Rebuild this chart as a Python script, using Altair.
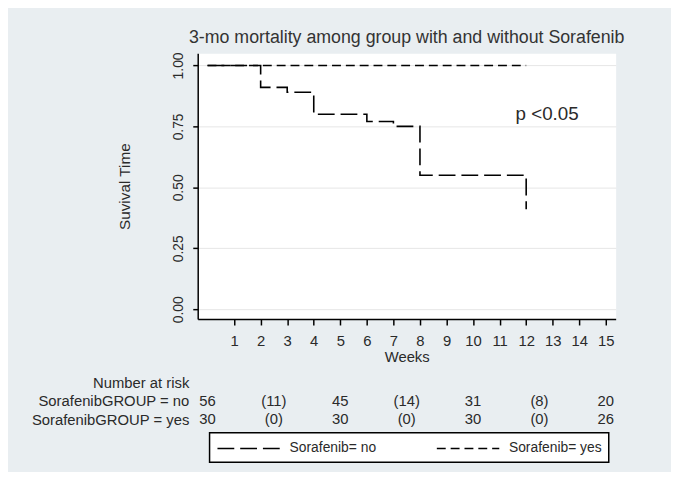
import altair as alt
import pandas as pd

# ---------------- data ----------------
chart_title = "3-mo mortality among group with and without Sorafenib"
groups = ["Sorafenib= no", "Sorafenib= yes"]
weeks_no = [0, 2, 3, 4, 6, 7, 8, 12]
surv_no = [1.0, 0.91, 0.89, 0.80, 0.77, 0.75, 0.55, 0.41]
weeks_yes = [0, 12]
surv_yes = [1.0, 1.0]
x_ticks = list(range(1, 16))
y_ticks = [0.0, 0.25, 0.5, 0.75, 1.0]
risk_rows = ["Number at risk", "SorafenibGROUP = no", "SorafenibGROUP = yes"]
risk_times = [0, 2.5, 5, 7.5, 10, 12.5, 15]
risk_no = ["56", "(11)", "45", "(14)", "31", "(8)", "20"]
risk_yes = ["30", "(0)", "30", "(0)", "30", "(0)", "26"]
p_label = ["p <0.05"]
p_week = [11.6]
p_surv = [0.80]

FONT = "Liberation Sans"
TXT = "#2a2a2a"

curve = pd.DataFrame({
    "week": weeks_no + weeks_yes,
    "surv": surv_no + surv_yes,
    "group": [groups[0]] * len(weeks_no) + [groups[1]] * len(weeks_yes),
})
ptext = pd.DataFrame({"week": p_week, "surv": p_surv, "label": p_label})
table = pd.DataFrame({
    "time": risk_times * 2,
    "value": risk_no + risk_yes,
    "row": [risk_rows[1]] * len(risk_times) + [risk_rows[2]] * len(risk_times),
})

xscale = alt.Scale(domain=[-0.37, 15.37], nice=False, zero=False)
yscale = alt.Scale(domain=[-0.04, 1.05], nice=False, zero=False)

xaxis = alt.Axis(values=x_ticks, format="d", title="Weeks", grid=False,
                 tickSize=6, labelFontSize=15, labelPadding=9, titleFontSize=15,
                 titlePadding=1, labelFlush=False)
yaxis = alt.Axis(values=y_ticks, format=".2f", title="Suvival Time", grid=True,
                 gridColor="#e6e6e6", tickSize=5, labelAngle=270, labelAlign="center",
                 labelBaseline="bottom", labelFontSize=14, labelPadding=7,
                 titleFontSize=15.5, titlePadding=40)

X = alt.X("week:Q", scale=xscale, axis=xaxis)
Y = alt.Y("surv:Q", scale=yscale, axis=yaxis)

lines = alt.Chart(curve).mark_line(
    interpolate="step-after", color="black", strokeWidth=1.6
).encode(
    x=X,
    y=Y,
    strokeDash=alt.StrokeDash(
        "group:N",
        scale=alt.Scale(domain=groups, range=[[17, 6], [9, 5]]),
        legend=alt.Legend(
            title=None, orient="none", direction="horizontal",
            legendX=12, legendY=384,
            symbolType="M-1,0H6.9", symbolSize=256, symbolStrokeWidth=1.5,
            symbolStrokeColor="black", symbolFillColor="transparent",
            labelOffset=56, columnPadding=58,
            labelFontSize=14, labelColor=TXT, labelLimit=300,
            padding=7, strokeColor="black", fillColor="white", cornerRadius=0,
        ),
    ),
)

ptxt = alt.Chart(ptext).mark_text(
    align="left", baseline="middle", fontSize=19, color=TXT, font=FONT
).encode(x=X, y=Y, text="label:N")

top = alt.layer(lines, ptxt).properties(
    width=423,
    height=269,
    title=alt.Title(chart_title, fontSize=18, fontWeight="normal", color="#333333",
                    offset=5, anchor="middle", font=FONT),
    view=alt.ViewBackground(fill="white", stroke="transparent"),
)

tbl = alt.Chart(table).mark_text(fontSize=15, color=TXT, font=FONT).encode(
    x=alt.X("time:Q", scale=xscale, axis=None),
    y=alt.Y("row:N", title=None,
            scale=alt.Scale(type="point", domain=risk_rows, padding=0.5),
            axis=alt.Axis(domain=False, ticks=False, grid=False, labelPadding=9,
                          labelFontSize=15, labelColor=TXT, labelAlign="right")),
    text="value:N",
).properties(width=423, height=56, view=alt.ViewBackground(stroke="transparent"))

chart = alt.vconcat(top, tbl, spacing=7).properties(
    background="#e9eef1",
    padding={"left": 22, "top": 18, "right": 46, "bottom": 6},
).configure(font=FONT).configure_view(stroke="transparent").configure_axis(
    domainColor="black", tickColor="black", domainWidth=1.5, tickWidth=1.5,
    labelColor=TXT, titleColor=TXT, titleFontWeight="normal",
    labelFont=FONT, titleFont=FONT,
).configure_legend(strokeWidth=1.5, labelFont=FONT)

chart.save("out.html", embed_options={"renderer": "svg", "actions": False})
